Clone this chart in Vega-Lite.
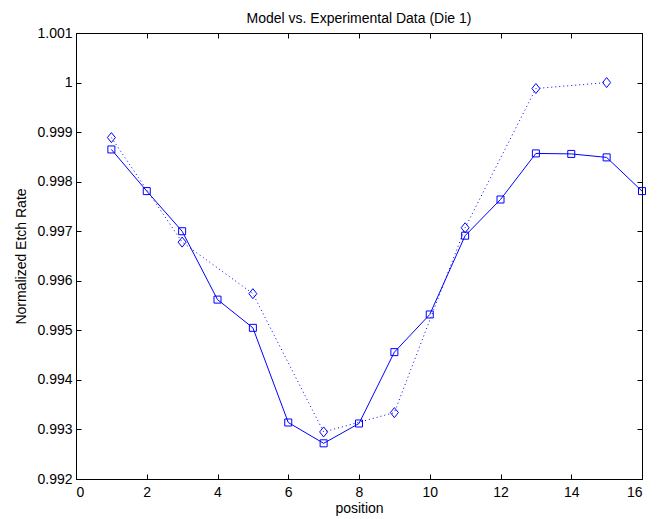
{
  "$schema": "https://vega.github.io/schema/vega-lite/v6.json",
  "width": 566,
  "height": 446,
  "autosize": {"type": "none"},
  "padding": {"left": 76, "top": 33, "right": 19, "bottom": 40},
  "background": "white",
  "title": {"text": "Model vs. Experimental Data (Die 1)", "fontSize": 14, "fontWeight": "normal", "font": "Liberation Sans", "color": "black", "offset": 0},
  "config": {
    "view": {"stroke": "black", "strokeWidth": 1},
    "font": "Liberation Sans",
    "axis": {
      "domainColor": "black",
      "tickColor": "black",
      "labelColor": "black",
      "titleColor": "black",
      "labelFont": "Liberation Sans",
      "titleFont": "Liberation Sans",
      "labelFontSize": 14,
      "titleFontSize": 14,
      "titleFontWeight": "normal",
      "grid": false,
      "tickSize": -5
    }
  },
  "datasets": {
    "model": [
      {"position": 1, "rate": 0.99865},
      {"position": 2, "rate": 0.99781},
      {"position": 3, "rate": 0.997},
      {"position": 4, "rate": 0.99562},
      {"position": 5, "rate": 0.99505},
      {"position": 6, "rate": 0.99314},
      {"position": 7, "rate": 0.99272},
      {"position": 8, "rate": 0.99312},
      {"position": 9, "rate": 0.99456},
      {"position": 10, "rate": 0.99532},
      {"position": 11, "rate": 0.99691},
      {"position": 12, "rate": 0.99764},
      {"position": 13, "rate": 0.99857},
      {"position": 14, "rate": 0.99856},
      {"position": 15, "rate": 0.99849},
      {"position": 16, "rate": 0.99781}
    ],
    "experiment": [
      {"position": 1, "rate": 0.99889},
      {"position": 3, "rate": 0.99678},
      {"position": 5, "rate": 0.99574},
      {"position": 7, "rate": 0.99295},
      {"position": 9, "rate": 0.99334},
      {"position": 11, "rate": 0.99707},
      {"position": 13, "rate": 0.99988},
      {"position": 15, "rate": 1.0}
    ]
  },
  "layer": [
    {
      "layer": [
        {
          "data": {"name": "experiment"},
          "mark": {"type": "line", "color": "#0000ff", "strokeWidth": 1, "strokeDash": [1, 3],
            "point": {"shape": "M-0.8,0L0,-1L0.8,0L0,1Z", "filled": false, "size": 100, "strokeWidth": 1, "color": "#0000ff", "strokeDash": []}},
          "encoding": {
            "x": {"field": "position", "type": "quantitative", "scale": {"domain": [0, 16], "nice": false, "zero": false},
              "axis": {"values": [0, 2, 4, 6, 8, 10, 12, 14, 16], "title": "position", "labelPadding": 11, "titlePadding": 2}},
            "y": {"field": "rate", "type": "quantitative", "scale": {"domain": [0.992, 1.001], "nice": false, "zero": false},
              "axis": {"values": [0.992, 0.993, 0.994, 0.995, 0.996, 0.997, 0.998, 0.999, 1.0, 1.001], "format": ".4~g", "title": "Normalized Etch Rate", "labelPadding": 9, "titlePadding": 8}}
          }
        },
        {
          "data": {"name": "model"},
          "mark": {"type": "line", "color": "#0000ff", "strokeWidth": 1,
            "point": {"shape": "square", "filled": false, "size": 49, "strokeWidth": 1, "color": "#0000ff"}},
          "encoding": {
            "x": {"field": "position", "type": "quantitative"},
            "y": {"field": "rate", "type": "quantitative"}
          }
        }
      ]
    },
    {
      "data": {"name": "model"},
      "mark": {"type": "point", "opacity": 0},
      "encoding": {
        "x": {"field": "position", "type": "quantitative", "scale": {"domain": [0, 16], "nice": false, "zero": false},
          "axis": {"orient": "top", "values": [0, 2, 4, 6, 8, 10, 12, 14, 16], "labels": false, "title": null, "domain": false}},
        "y": {"field": "rate", "type": "quantitative", "scale": {"domain": [0.992, 1.001], "nice": false, "zero": false},
          "axis": {"orient": "right", "values": [0.992, 0.993, 0.994, 0.995, 0.996, 0.997, 0.998, 0.999, 1.0, 1.001], "labels": false, "title": null, "domain": false}}
      }
    }
  ],
  "resolve": {"scale": {"x": "independent", "y": "independent"}}
}
